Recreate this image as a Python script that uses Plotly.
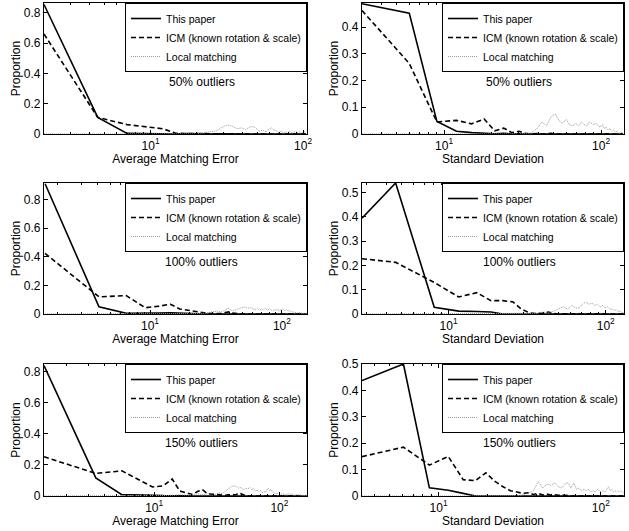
import math
import plotly.graph_objects as go

W, H = 629, 531

series_names = ["This paper", "ICM (known rotation & scale)", "Local matching"]
outlier_labels = ["50% outliers", "100% outliers", "150% outliers"]
x_titles = ["Average Matching Error", "Standard Deviation"]
y_title = "Proportion"
x_tick_vals = [10, 100]
x_tick_text = ["10<sup>1</sup>", "10<sup>2</sup>"]
x_minor_vals = [2, 3, 4, 5, 6, 7, 8, 9, 20, 30, 40, 50, 60, 70, 80, 90, 200]

# ---------- Panel 1: 50% outliers, Average Matching Error ----------
p1_paper_x = [2, 4.5, 7, 9.5, 12, 14.5, 17, 19.5, 22, 24.5, 27, 29.5, 32, 34.5, 37, 39.5, 42, 104.5]
p1_paper_y = [0.855, 0.11, 0.004, 0.001, 0.002, 0.0, 0.003, 0.001, 0.002, 0.0, 0.002, 0.001, 0.003, 0.0, 0.002, 0.0, 0.0, 0.0]
p1_icm_x = [2, 4.5, 7, 9.5, 12, 14.5, 17, 19.5, 22, 24.5, 27, 29.5, 32, 34.5, 37, 39.5, 42, 104.5]
p1_icm_y = [0.66, 0.11, 0.062, 0.048, 0.035, 0.006, 0.002, 0.004, 0.001, 0.003, 0.0, 0.002, 0.001, 0.003, 0.0, 0.002, 0.0, 0.0]
p1_local_x = [2, 19.5, 22, 24.5, 27, 29.5, 32, 34.5, 37, 39.5, 42, 44.5, 47, 49.5, 52, 54.5, 57, 59.5, 62, 64.5,
              67, 69.5, 72, 74.5, 77, 79.5, 82, 84.5, 87, 89.5, 92, 94.5, 97, 99.5, 102, 104.5]
p1_local_y = [0, 0, 0.008, 0.015, 0.02, 0.045, 0.06, 0.05, 0.035, 0.04, 0.03, 0.045, 0.05, 0.035, 0.02, 0.025, 0.015, 0.03, 0.04, 0.025,
              0.02, 0.01, 0.02, 0.005, 0.015, 0.01, 0.02, 0.005, 0.015, 0.02, 0.01, 0.015, 0.005, 0.01, 0.015, 0.005]
p1_xrange = [2, 106]
p1_yrange = [0, 0.865]
p1_ydtick = 0.2

# ---------- Panel 2: 50% outliers, Standard Deviation ----------
p2_paper_x = [3, 6, 9, 12, 15, 18, 21, 24, 27, 30, 33, 138]
p2_paper_y = [0.487, 0.452, 0.047, 0.01, 0.005, 0.002, 0.001, 0.003, 0.0, 0.001, 0.0, 0.0]
p2_icm_x = [3, 6, 9, 12, 15, 18, 21, 24, 27, 30, 33, 36, 39, 42, 45, 48, 51, 138]
p2_icm_y = [0.462, 0.264, 0.045, 0.051, 0.038, 0.056, 0.012, 0.022, 0.005, 0.01, 0.003, 0.0, 0.002, 0.0, 0.001, 0.003, 0.0, 0.0]
p2_local_x = [3, 33, 36, 39, 42, 45, 48, 51, 54, 57, 60, 63, 66, 69, 72, 75, 78, 81, 84, 87,
              90, 93, 96, 99, 102, 105, 108, 111, 114, 117, 120, 123, 126, 129, 132, 135, 138]
p2_local_y = [0, 0, 0.005, 0.02, 0.045, 0.03, 0.065, 0.075, 0.05, 0.04, 0.055, 0.035, 0.03, 0.04, 0.03, 0.045, 0.035, 0.03, 0.045, 0.04,
              0.035, 0.04, 0.03, 0.025, 0.035, 0.02, 0.025, 0.015, 0.02, 0.01, 0.015, 0.008, 0.01, 0.005, 0.003, 0.005, 0.002]
p2_xrange = [3, 140]
p2_yrange = [0, 0.49]
p2_ydtick = 0.1

# ---------- Panel 3: 100% outliers, Average Matching Error ----------
p3_paper_x = [1.6, 4.1, 6.6, 9.2, 11.7, 14.3, 16.8, 19.4, 21.9, 24.4, 27.0, 154.0]
p3_paper_y = [0.91, 0.05, 0.005, 0.003, 0.006, 0.008, 0.005, 0.002, 0.004, 0.001, 0.0, 0.0]
p3_icm_x = [1.6, 4.1, 6.6, 9.2, 11.7, 14.3, 16.8, 19.4, 21.9, 24.4, 27.0, 29.5, 32.1, 34.6, 37.1, 39.7, 42.2, 44.8, 47.3, 49.8,
            52.4, 54.9, 57.5, 154.0]
p3_icm_y = [0.423, 0.12, 0.128, 0.044, 0.055, 0.068, 0.035, 0.025, 0.015, 0.01, 0.005, 0.003, 0.002, 0.005, 0.01, 0.015, 0.006, 0.002, 0.002, 0.0,
            0.001, 0.003, 0.0, 0.0]
p3_local_x = [1.6, 21.9, 24.4, 27.0, 29.5, 32.1, 34.6, 37.1, 39.7, 42.2, 44.8, 47.3, 49.8, 52.4, 54.9, 57.5, 60.0, 62.5, 65.1, 67.6,
              70.2, 72.7, 75.2, 77.8, 80.3, 82.9, 85.4, 87.9, 90.5, 93.0, 95.6, 98.1, 100.6, 103.2, 105.7, 108.3, 110.8, 113.3, 115.9, 118.4,
              121.0, 123.5, 126.0, 128.6, 131.1, 133.7, 136.2, 138.7, 141.3, 143.8, 146.4, 148.9, 151.4, 154.0]
p3_local_y = [0, 0, 0.004, 0.008, 0.012, 0.02, 0.015, 0.03, 0.04, 0.02, 0.03, 0.035, 0.045, 0.05, 0.04, 0.045, 0.035, 0.03, 0.04, 0.025,
              0.035, 0.03, 0.04, 0.025, 0.035, 0.03, 0.02, 0.03, 0.025, 0.035, 0.02, 0.03, 0.035, 0.03, 0.025, 0.03, 0.02, 0.025, 0.015, 0.02,
              0.012, 0.015, 0.01, 0.012, 0.008, 0.01, 0.006, 0.008, 0.005, 0.006, 0.003, 0.004, 0.002, 0.002]
p3_xrange = [1.57, 155]
p3_yrange = [0, 0.915]
p3_ydtick = 0.2

# ---------- Panel 4: 100% outliers, Standard Deviation ----------
p4_paper_x = [2.81, 4.6, 8.1, 11.6, 15.1, 18.6, 22.1, 25.6, 130.6]
p4_paper_y = [0.395, 0.54, 0.028, 0.012, 0.01, 0.008, 0.0, 0.0, 0.0]
p4_icm_x = [2.81, 4.6, 8.1, 11.6, 15.1, 18.6, 22.1, 25.6, 29.1, 32.6, 36.1, 39.6, 43.1, 46.6, 50.1, 53.6, 130.6]
p4_icm_y = [0.228, 0.213, 0.13, 0.07, 0.088, 0.055, 0.055, 0.05, 0.02, 0.005, 0.002, 0.003, 0.008, 0.002, 0.0, 0.001, 0.0]
p4_local_x = [2.81, 32.6, 36.1, 39.6, 43.1, 46.6, 50.1, 53.6, 57.1, 60.6, 64.1, 67.6, 71.1, 74.6, 78.1, 81.6, 85.1, 88.6, 92.1, 95.6,
              99.1, 102.6, 106.1, 109.6, 113.1, 116.6, 120.1, 123.6, 127.1, 130.6]
p4_local_y = [0, 0, 0.003, 0.008, 0.005, 0.012, 0.02, 0.03, 0.02, 0.035, 0.025, 0.025, 0.04, 0.05, 0.04, 0.045, 0.035, 0.04, 0.03, 0.035,
              0.025, 0.03, 0.02, 0.02, 0.015, 0.018, 0.01, 0.012, 0.006, 0.008]
p4_xrange = [2.81, 130.6]
p4_yrange = [0, 0.54]
p4_ydtick = 0.1

# ---------- Panel 5: 150% outliers, Average Matching Error ----------
p5_paper_x = [1.32, 3.42, 5.52, 7.62, 9.72, 11.82, 13.92, 16.02, 18.12, 20.22, 166]
p5_paper_y = [0.84, 0.117, 0.009, 0.004, 0.005, 0.003, 0.004, 0.001, 0.002, 0.0, 0.0]
p5_icm_x = [1.32, 3.42, 5.52, 7.62, 9.72, 11.82, 13.92, 16.02, 18.12, 20.22, 22.32, 24.42, 26.52, 28.62, 30.72, 32.82, 34.92, 37.02,
            39.12, 41.22, 43.32, 45.42, 47.52, 49.62, 51.72, 53.82, 55.92, 166]
p5_icm_y = [0.253, 0.145, 0.162, 0.105, 0.058, 0.065, 0.11, 0.032, 0.02, 0.01, 0.03, 0.04, 0.015, 0.012, 0.008, 0.01, 0.006, 0.004,
            0.008, 0.005, 0.008, 0.01, 0.02, 0.012, 0.004, 0.002, 0.0, 0.0]
p5_local_x = [1.32, 11.82, 13.92, 16.02, 18.12, 20.22, 22.32, 24.42, 26.52, 28.62, 30.72, 32.82, 34.92, 37.02, 39.12, 41.22, 43.32, 45.42,
              47.52, 49.62, 51.72, 53.82, 55.92, 58.02, 60.12, 62.22, 64.32, 66.42, 68.52, 70.62, 72.72, 74.82, 76.92, 79.02, 81.12, 83.22,
              85.32, 87.42, 89.52, 93.72, 97.92, 102.12, 106.32, 110.52, 114.72, 118.92, 123.12, 127.32, 131.52, 135.72, 139.92, 144.12,
              148.32, 152.52, 156.72, 160.92, 165.12]
p5_local_y = [0, 0, 0.004, 0.008, 0.005, 0.01, 0.015, 0.008, 0.012, 0.018, 0.01, 0.02, 0.015, 0.03, 0.045, 0.06, 0.065, 0.06,
              0.05, 0.055, 0.04, 0.05, 0.045, 0.055, 0.04, 0.05, 0.03, 0.04, 0.025, 0.035, 0.02, 0.03, 0.025, 0.04, 0.05, 0.035,
              0.045, 0.03, 0.02, 0.015, 0.02, 0.01, 0.015, 0.008, 0.012, 0.015, 0.01, 0.012, 0.006, 0.008, 0.01, 0.005,
              0.007, 0.004, 0.006, 0.003, 0.004]
p5_xrange = [1.32, 166]
p5_yrange = [0, 0.85]
p5_ydtick = 0.2

# ---------- Panel 6: 150% outliers, Standard Deviation ----------
p6_paper_x = [3.37, 6.07, 8.77, 11.47, 14.17, 16.87, 138.37]
p6_paper_y = [0.437, 0.5, 0.031, 0.022, 0.01, 0.0, 0.0]
p6_icm_x = [3.37, 6.07, 8.77, 11.47, 14.17, 16.87, 19.57, 22.27, 24.97, 27.67, 30.37, 33.07, 35.77, 38.47, 41.17, 43.87, 46.57, 49.27,
            51.97, 54.67, 57.37, 60.07, 62.77, 65.47, 138.37]
p6_icm_y = [0.149, 0.185, 0.117, 0.15, 0.062, 0.058, 0.088, 0.055, 0.035, 0.02, 0.015, 0.01, 0.012, 0.006, 0.01, 0.004, 0.007, 0.003,
            0.005, 0.003, 0.004, 0.002, 0.003, 0.0, 0.0]
p6_local_x = [3.37, 30.37, 33.07, 35.77, 38.47, 41.17, 43.87, 46.57, 49.27, 51.97, 54.67, 57.37, 60.07, 62.77, 65.47, 68.17, 70.87, 73.57,
              76.27, 78.97, 81.67, 84.37, 87.07, 89.77, 92.47, 95.17, 97.87, 100.57, 103.27, 105.97, 108.67, 111.37, 114.07, 116.77,
              119.47, 122.17, 124.87, 127.57, 130.27, 132.97, 135.67, 138.37]
p6_local_y = [0, 0, 0.005, 0.01, 0.02, 0.055, 0.03, 0.045, 0.04, 0.05, 0.035, 0.03, 0.045, 0.05, 0.03, 0.05, 0.025, 0.03,
              0.02, 0.025, 0.02, 0.025, 0.015, 0.02, 0.015, 0.025, 0.02, 0.015, 0.02, 0.015, 0.025, 0.035, 0.02, 0.025,
              0.015, 0.02, 0.015, 0.02, 0.015, 0.02, 0.015, 0.012]
p6_xrange = [3.37, 139]
p6_yrange = [0, 0.5]
p6_ydtick = 0.1

panels = [
    (p1_paper_x, p1_paper_y, p1_icm_x, p1_icm_y, p1_local_x, p1_local_y, p1_xrange, p1_yrange, p1_ydtick),
    (p2_paper_x, p2_paper_y, p2_icm_x, p2_icm_y, p2_local_x, p2_local_y, p2_xrange, p2_yrange, p2_ydtick),
    (p3_paper_x, p3_paper_y, p3_icm_x, p3_icm_y, p3_local_x, p3_local_y, p3_xrange, p3_yrange, p3_ydtick),
    (p4_paper_x, p4_paper_y, p4_icm_x, p4_icm_y, p4_local_x, p4_local_y, p4_xrange, p4_yrange, p4_ydtick),
    (p5_paper_x, p5_paper_y, p5_icm_x, p5_icm_y, p5_local_x, p5_local_y, p5_xrange, p5_yrange, p5_ydtick),
    (p6_paper_x, p6_paper_y, p6_icm_x, p6_icm_y, p6_local_x, p6_local_y, p6_xrange, p6_yrange, p6_ydtick),
]

# Layout geometry (window pixels of the reference)
col_px = [(44, 307), (362, 624)]
row_px = [(3, 134), (183, 314), (364, 496)]

FONT = "Liberation Sans, Arial, Helvetica, sans-serif"
line_styles = [
    dict(color="black", width=1.6, dash="solid"),
    dict(color="black", width=1.6, dash="5px,3px"),
    dict(color="#9a9a9a", width=1.0, dash="1px,1px"),
]

fig = go.Figure()
layout = dict(
    width=W, height=H,
    margin=dict(l=0, r=0, t=0, b=0, pad=0, autoexpand=False),
    paper_bgcolor="white", plot_bgcolor="white",
    font=dict(family=FONT, size=12, color="black"),
    showlegend=True,
)
annotations = []

for k, p in enumerate(panels, start=1):
    px_, py_, ix_, iy_, lx_, ly_, xr, yr, ydt = p
    row, col = (k - 1) // 2, (k - 1) % 2
    suf = "" if k == 1 else str(k)
    leg = "legend" if k == 1 else "legend%d" % k
    for name, xs, ys, st in zip(series_names, [px_, ix_, lx_], [py_, iy_, ly_], line_styles):
        fig.add_trace(go.Scatter(
            x=xs, y=ys, mode="lines", name=name, line=st,
            xaxis="x" + suf, yaxis="y" + suf, legend=leg, showlegend=True,
        ))
    x0, x1 = col_px[col]
    t0, t1 = row_px[row]
    layout["xaxis" + suf] = dict(
        domain=[x0 / W, x1 / W], anchor="y" + suf, type="log",
        range=[math.log10(xr[0]), math.log10(xr[1])],
        tickmode="array", tickvals=x_tick_vals, ticktext=x_tick_text,
        ticks="inside", ticklen=4, tickwidth=1, tickcolor="black",
        minor=dict(tickmode="array", tickvals=x_minor_vals, ticks="inside", ticklen=2, tickcolor="black", showgrid=False),
        showline=True, linecolor="black", linewidth=1.2, mirror="ticks",
        showgrid=False, zeroline=False, automargin=False,
        tickfont=dict(size=12, family=FONT, color="black"),
        title=dict(text=x_titles[col], font=dict(size=12, family=FONT), standoff=0),
    )
    layout["yaxis" + suf] = dict(
        domain=[1 - t1 / H, 1 - t0 / H], anchor="x" + suf,
        range=yr, dtick=ydt, tick0=0,
        ticks="inside", ticklen=4, tickwidth=1, tickcolor="black",
        showline=True, linecolor="black", linewidth=1.2, mirror="ticks",
        showgrid=False, zeroline=False, automargin=False,
        tickfont=dict(size=12, family=FONT, color="black"),
        title=dict(text=y_title, font=dict(size=12, family=FONT), standoff=0),
    )
    layout[leg] = dict(
        x=x1 / W, y=1 - t0 / H, xanchor="right", yanchor="top",
        bgcolor="white", bordercolor="black", borderwidth=1,
        font=dict(size=10.5, family=FONT, color="black"),
        tracegroupgap=0, itemwidth=30,
    )
    annotations.append(dict(
        text=outlier_labels[row], xref="x%s domain" % suf, yref="y%s domain" % suf,
        x=0.6, y=0.4, showarrow=False, font=dict(size=12, family=FONT, color="black"),
    ))

layout["annotations"] = annotations
fig.update_layout(**layout)
# remove the page's default 8px body margin so the figure sits at the window corner; hide the modebar
fig.write_html("out.html", config={"displayModeBar": False},
               post_script="document.body.style.margin='0px';")
